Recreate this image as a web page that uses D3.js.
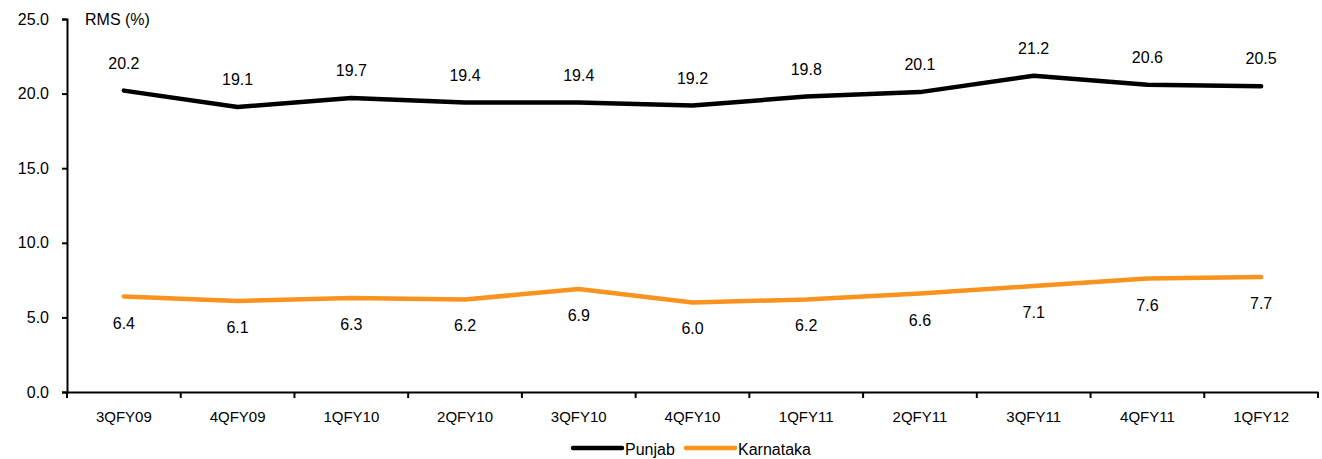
<!DOCTYPE html>
<html>
<head>
<meta charset="utf-8">
<script src="https://cdn.jsdelivr.net/npm/d3@7"></script>
<style>
  html, body { margin: 0; padding: 0; background: #fff; }
  svg { display: block; font-family: "Liberation Sans", Arial, sans-serif; }
</style>
</head>
<body>
<svg id="chart" width="1322" height="459"></svg>
<script>
// Quarterly RMS (%) by state
const quarters = ["3QFY09","4QFY09","1QFY10","2QFY10","3QFY10","4QFY10","1QFY11","2QFY11","3QFY11","4QFY11","1QFY12"];
const punjab = [20.2, 19.1, 19.7, 19.4, 19.4, 19.2, 19.8, 20.1, 21.2, 20.6, 20.5];
const karnataka = [6.4, 6.1, 6.3, 6.2, 6.9, 6.0, 6.2, 6.6, 7.1, 7.6, 7.7];
const yTicks = [0, 5, 10, 15, 20, 25];
const seriesNames = ["Punjab", "Karnataka"];

const colors = { Punjab: "#000000", Karnataka: "#F7931E" };
const svg = d3.select("#chart");
const plot = { left: 67, right: 1318, top: 19, bottom: 392 };
const font = "Liberation Sans, Arial, sans-serif";

const x = d3.scaleBand().domain(quarters).range([plot.left, plot.right]).padding(0);
const y = d3.scaleLinear().domain([0, 25]).range([plot.bottom, plot.top]);

// Y axis
const yAxis = svg.append("g")
  .attr("transform", `translate(${plot.left},0)`)
  .call(d3.axisLeft(y).tickValues(yTicks).tickFormat(d3.format(".1f")).tickSize(5).tickPadding(13));
yAxis.select(".domain").attr("stroke", "#000").attr("stroke-width", 2);
yAxis.selectAll(".tick line").attr("stroke", "#000").attr("stroke-width", 2);
yAxis.selectAll(".tick text").attr("font-size", 16).attr("fill", "#000").attr("font-family", font);

// X axis with ticks at category boundaries
const xAxis = svg.append("g")
  .attr("transform", `translate(0,${plot.bottom})`)
  .call(d3.axisBottom(x).tickSize(0).tickPadding(19));
xAxis.select(".domain").attr("stroke", "#000").attr("stroke-width", 2);
xAxis.selectAll(".tick text").attr("font-size", 15).attr("fill", "#000").attr("font-family", font);
const bounds = quarters.map(q => x(q)).concat([x(quarters[quarters.length - 1]) + x.bandwidth()]);
xAxis.selectAll("line.bound").data(bounds).enter().append("line")
  .attr("class", "bound")
  .attr("x1", d => d).attr("x2", d => d)
  .attr("y1", 0).attr("y2", 6)
  .attr("stroke", "#000").attr("stroke-width", 2);

// Axis title
svg.append("text").attr("x", 85).attr("y", 25)
  .attr("font-size", 16).attr("fill", "#000").text("RMS (%)");

const cx = q => x(q) + x.bandwidth() / 2;
const line = d3.line().x((d, i) => cx(quarters[i])).y(d => y(d));

const series = [
  { name: "Punjab", values: punjab, dy: -22 },
  { name: "Karnataka", values: karnataka, dy: 32 }
];

series.forEach(s => {
  svg.append("path").datum(s.values)
    .attr("d", line)
    .attr("fill", "none")
    .attr("stroke", colors[s.name])
    .attr("stroke-width", 4.5)
    .attr("stroke-linecap", "round")
    .attr("stroke-linejoin", "round");

  svg.append("g").selectAll("text").data(s.values).enter().append("text")
    .attr("x", (d, i) => cx(quarters[i]))
    .attr("y", d => y(d) + s.dy)
    .attr("text-anchor", "middle")
    .attr("font-size", 16)
    .attr("fill", "#000")
    .text(d => d.toFixed(1));
});

// Legend
const legendItems = [
  { name: seriesNames[0], x: 573 },
  { name: seriesNames[1], x: 686 }
];
const lg = svg.append("g");
legendItems.forEach(it => {
  lg.append("line")
    .attr("x1", it.x).attr("x2", it.x + 49)
    .attr("y1", 448).attr("y2", 448)
    .attr("stroke", colors[it.name]).attr("stroke-width", 4.5)
    .attr("stroke-linecap", "round");
  lg.append("text")
    .attr("x", it.x + 52).attr("y", 455)
    .attr("font-size", 16).attr("fill", "#000")
    .text(it.name);
});
</script>
</body>
</html>
